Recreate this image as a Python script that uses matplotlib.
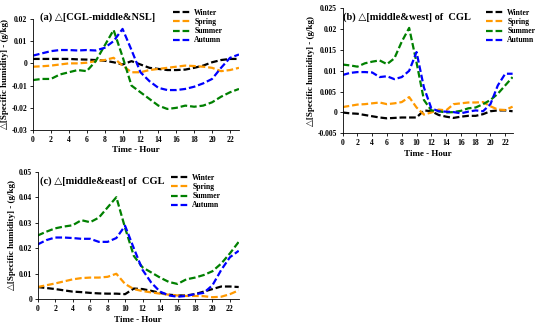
import matplotlib
matplotlib.use('Agg')
from matplotlib import pyplot as plt
from matplotlib.ticker import FuncFormatter
import numpy as np

plt.rcParams['font.family'] = ['Liberation Serif', 'DejaVu Serif']
plt.rcParams['font.weight'] = 'bold'

hours = np.arange(24)

# (a) CGL-middle & NSL
a_winter = [0.002, 0.002, 0.002, 0.002, 0.002, 0.0018, 0.0017, 0.0015, 0.0012, 0.0005, -0.0005, 0.001,
            -0.0005, -0.002, -0.0025, -0.003, -0.003, -0.0028, -0.002, -0.001, 0.0005, 0.0015, 0.002, 0.002]
a_spring = [-0.0015, -0.0013, -0.001, -0.0005, 0, 0, 0.0003, 0.001, 0.0015, 0.0025, -0.001, -0.004,
            -0.004, -0.003, -0.0025, -0.002, -0.0015, -0.001, -0.0012, -0.0015, -0.002, -0.0035, -0.003, -0.002]
a_summer = [-0.0075, -0.007, -0.007, -0.005, -0.004, -0.003, -0.0035, 0.001, 0.008, 0.015, 0.003, -0.01,
            -0.013, -0.016, -0.019, -0.0205, -0.02, -0.019, -0.0195, -0.019, -0.0175, -0.015, -0.013, -0.0115]
a_autumn = [0.0035, 0.0045, 0.0055, 0.006, 0.006, 0.0058, 0.006, 0.0058, 0.007, 0.01, 0.0155, 0.006,
            -0.004, -0.008, -0.011, -0.012, -0.012, -0.0115, -0.0105, -0.009, -0.007, -0.002, 0.0025, 0.004]

# (b) middle & west of CGL
b_winter = [0, -0.0002, -0.0003, -0.0006, -0.0009, -0.0012, -0.0014, -0.0013, -0.0012, -0.0012, -0.0012, 0.0005,
            0.0003, -0.0006, -0.001, -0.0013, -0.001, -0.0008, -0.0008, -0.0004, 0.0003, 0.0005, 0.0005, 0.0003]
b_spring = [0.0013, 0.0016, 0.0019, 0.002, 0.0022, 0.0024, 0.002, 0.0022, 0.0025, 0.0037, 0.0012, -0.0005,
            0, 0.0007, 0.0005, 0.002, 0.0022, 0.0024, 0.0024, 0.0025, 0.0015, 0.0007, 0.0006, 0.0014]
b_summer = [0.0115, 0.0113, 0.011, 0.0118, 0.0122, 0.0125, 0.0116, 0.013, 0.017, 0.0203, 0.012, 0.003,
            0.0005, 0.0003, 0, 0.0001, 0.0004, 0.001, 0.0012, 0.002, 0.003, 0.0045, 0.0065, 0.0085]
b_autumn = [0.009, 0.0095, 0.0097, 0.0097, 0.0096, 0.0085, 0.0087, 0.008, 0.0085, 0.01, 0.0145, 0.006,
            0.001, 0.0003, 0.0002, 0.0001, -0.0002, 0.0002, 0.0005, 0.0003, 0.002, 0.0065, 0.0093, 0.0093]

# (c) middle & east of CGL
c_winter = [0.0048, 0.0044, 0.004, 0.0035, 0.003, 0.0028, 0.0025, 0.0023, 0.0022, 0.0022, 0.002, 0.0042,
            0.004, 0.0033, 0.0025, 0.0018, 0.0015, 0.0015, 0.002, 0.003, 0.004, 0.005, 0.005, 0.0048]
c_spring = [0.0048, 0.0055, 0.0062, 0.007, 0.0078, 0.0083, 0.0085, 0.0085, 0.0088, 0.01, 0.006, 0.004,
            0.0032, 0.0027, 0.0022, 0.0018, 0.0015, 0.0013, 0.0013, 0.0012, 0.0008, 0.001, 0.002, 0.0035]
c_summer = [0.025, 0.0265, 0.0278, 0.0285, 0.029, 0.031, 0.0302, 0.032, 0.036, 0.04, 0.028, 0.017,
            0.0125, 0.0105, 0.0085, 0.0068, 0.006, 0.0078, 0.0085, 0.0095, 0.011, 0.014, 0.018, 0.0225]
c_autumn = [0.0215, 0.0232, 0.0242, 0.0242, 0.024, 0.0237, 0.0237, 0.0225, 0.0225, 0.024, 0.0288, 0.02,
            0.0115, 0.0065, 0.003, 0.0015, 0.001, 0.0013, 0.002, 0.0025, 0.0055, 0.0115, 0.0165, 0.019]

seasons = ['Winter', 'Spring', 'Summer', 'Autumn']
colors = ['black', '#ff9900', 'green', 'blue']

W, H = 550, 326

# title, data, axes rect, ylim, ystep, title pos (px), legend corner (px)
panels = [
    ('(a) △[CGL-middle&NSL]', [a_winter, a_spring, a_summer, a_autumn],
     [0.06, 0.601, 0.3745, 0.341], (-0.03, 0.02), 0.01, (40, 17), (173, 9)),
    ('(b) △[middle&west] of  CGL', [b_winter, b_spring, b_summer, b_autumn],
     [0.623, 0.591, 0.309, 0.3835], (-0.005, 0.025), 0.005, (343, 17), (486, 9)),
    ('(c) △[middle&east] of  CGL', [c_winter, c_spring, c_summer, c_autumn],
     [0.0685, 0.082, 0.3655, 0.3913], (0, 0.05), 0.01, (40, 181), (171, 174)),
]

fig = plt.figure(figsize=(W / 100, H / 100), dpi=100)
fmt = FuncFormatter(lambda v, p: '0' if abs(v) < 1e-12 else '%g' % round(v, 4))

for title, series, pos, ylim, step, tpos, lpos in panels:
    ax = fig.add_axes(pos)
    for name, col, vals in zip(seasons, colors, series):
        ax.plot(hours, vals, color=col, ls=(0, (3, 1.3)), lw=1.6, label=name)
    ax.set_xlim(0, 23)
    ax.set_ylim(*ylim)
    ax.set_xticks(range(0, 23, 2))
    ax.set_yticks(np.arange(ylim[0], ylim[1] + step / 2, step))
    ax.yaxis.set_major_formatter(fmt)
    ax.tick_params(labelsize=5.5, length=2, width=0.6, pad=2)
    for s in ['top', 'right']:
        ax.spines[s].set_visible(False)
    for s in ['left', 'bottom']:
        ax.spines[s].set_linewidth(0.6)
    ax.set_xlabel('Time - Hour', fontsize=6.5, fontweight='bold', labelpad=2)
    ax.set_ylabel('△[Specific humidity] - (g/kg)', fontsize=6.5, fontweight='bold', labelpad=2)
    fig.text(tpos[0] / W, 1 - tpos[1] / H, title, fontsize=7.5, fontweight='bold', va='center')
    ax.legend(loc='upper left', bbox_to_anchor=(lpos[0] / W, 1 - lpos[1] / H),
              bbox_transform=fig.transFigure, fontsize=5.5, frameon=False,
              handlelength=2.3, labelspacing=0.15, borderpad=0, borderaxespad=0,
              handletextpad=0.5)

fig.savefig('out.png', dpi=100)
